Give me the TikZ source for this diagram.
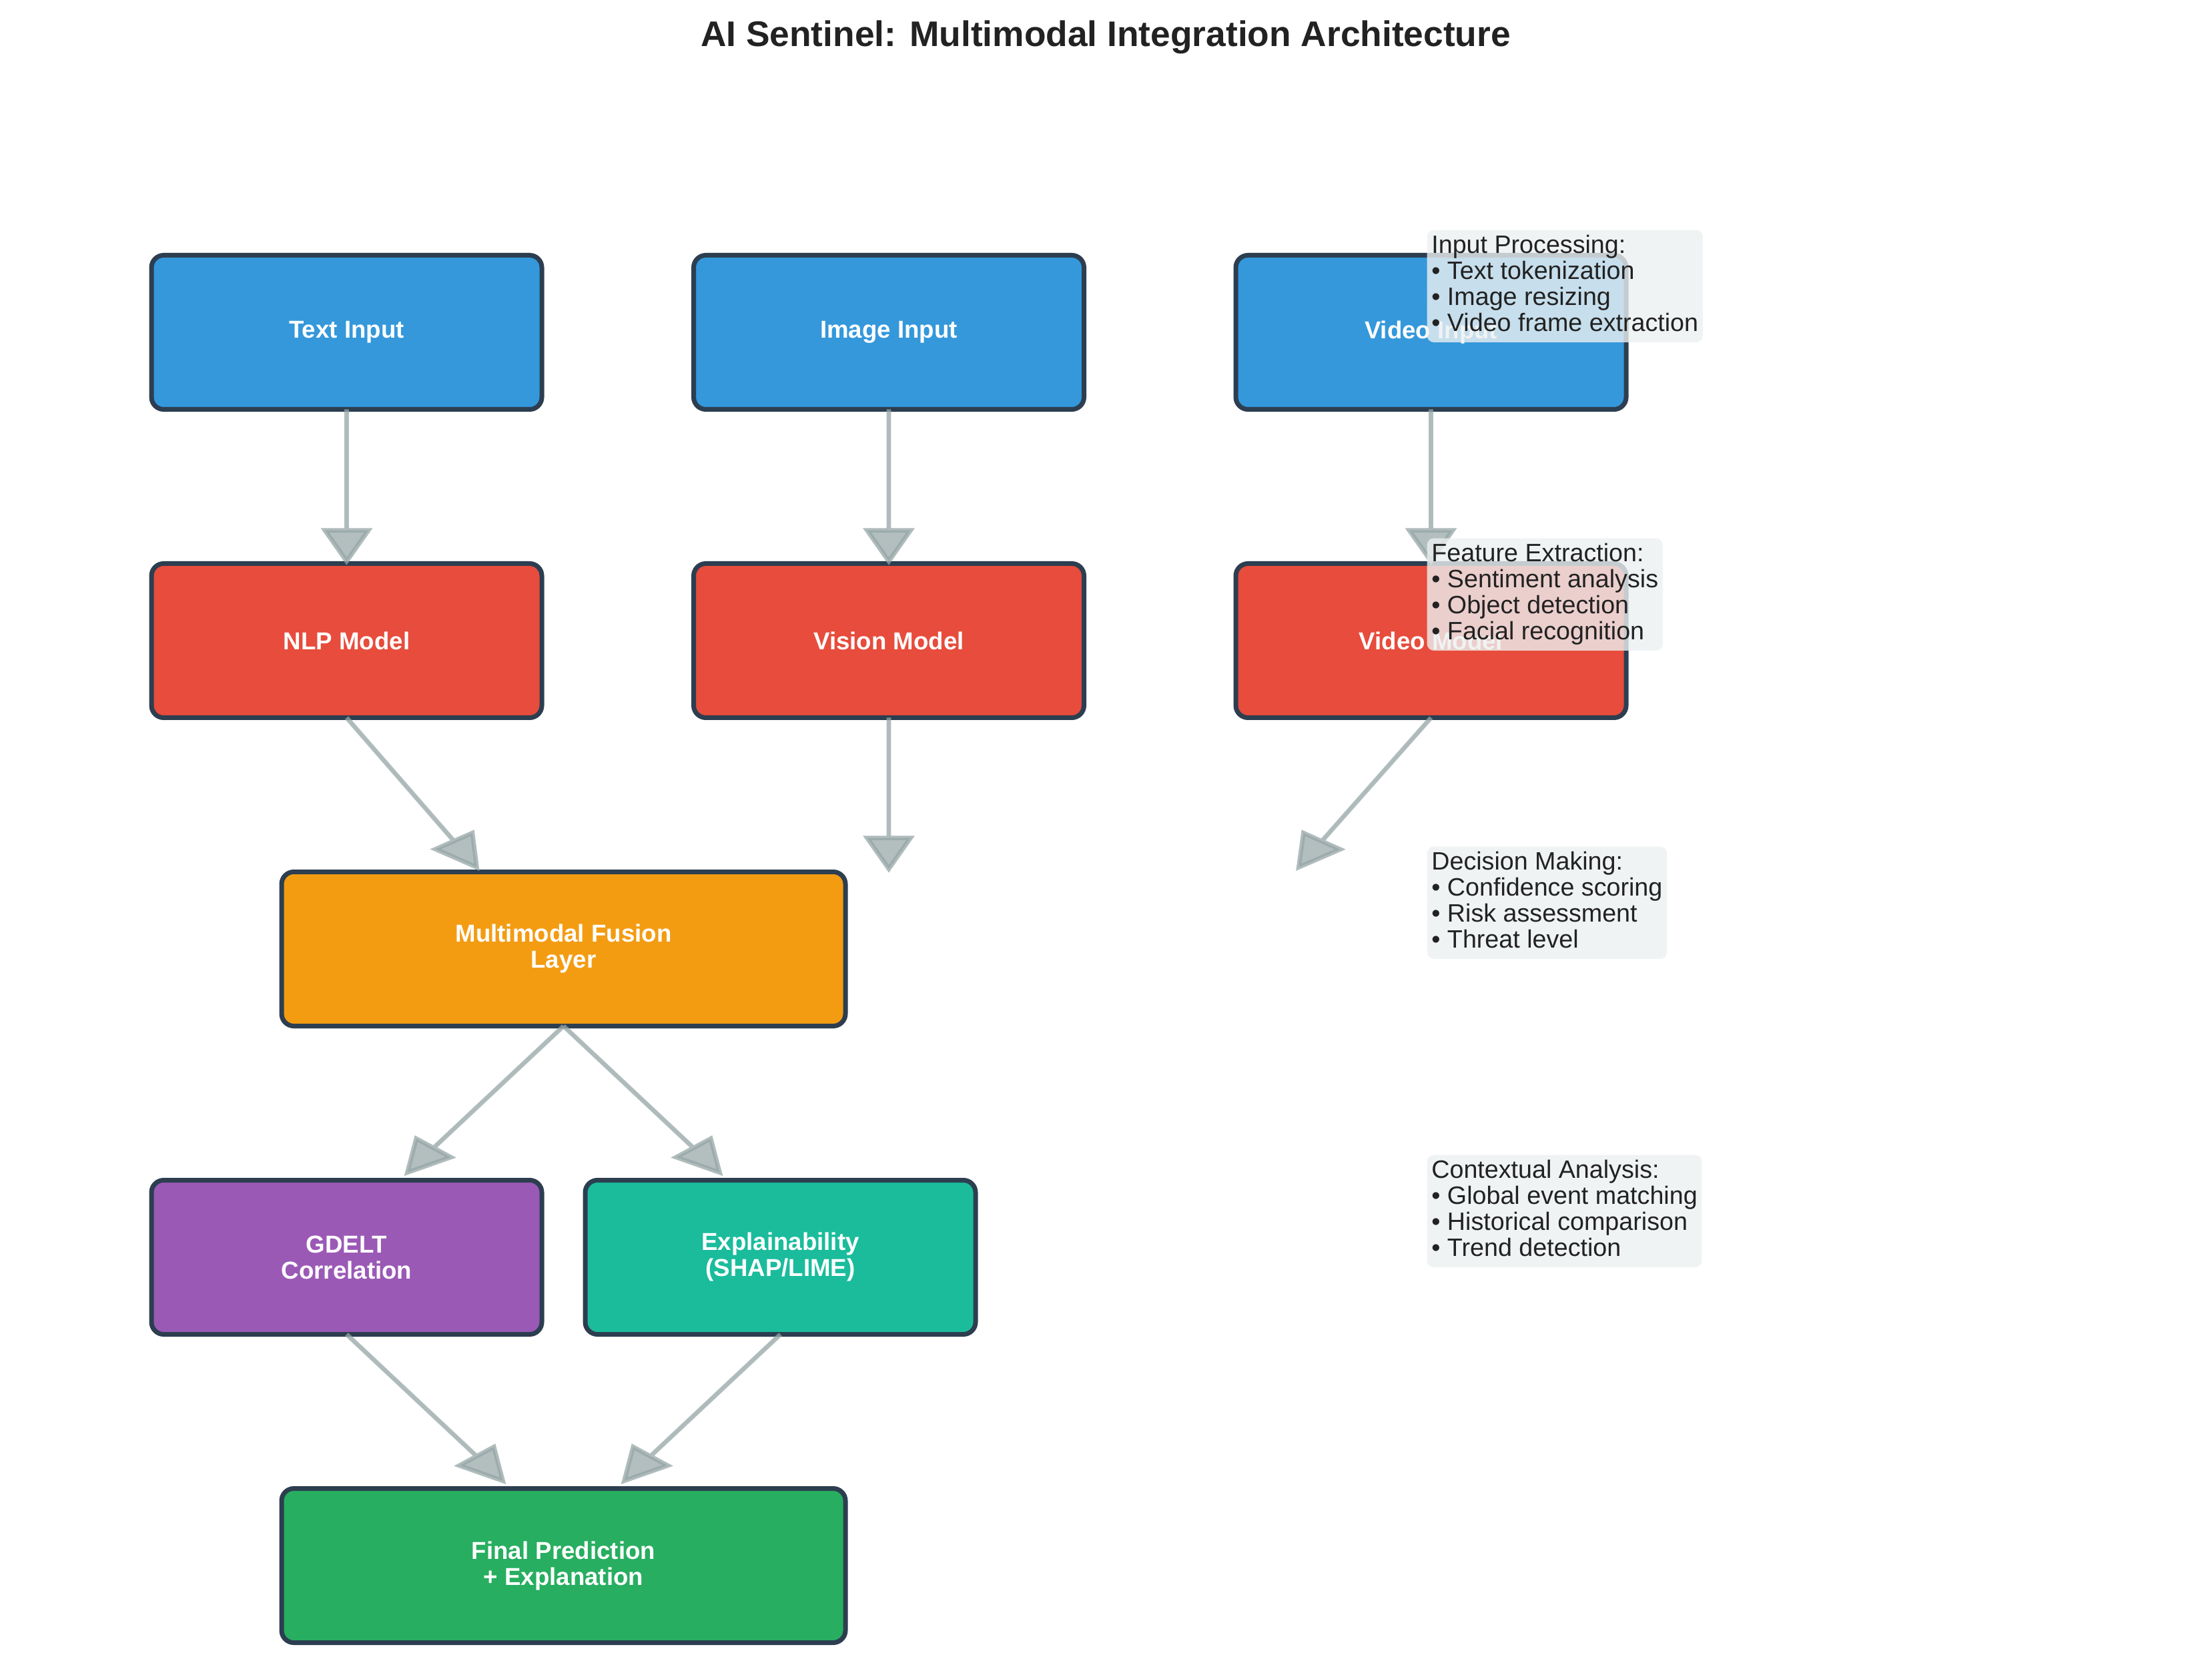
\documentclass[tikz,border=0pt]{standalone}
\usepackage{fontspec}
\setmainfont{Liberation Sans}
\usetikzlibrary{calc}
\definecolor{cdark}{HTML}{2C3E50}
\definecolor{cin}{HTML}{3498DB}
\definecolor{cmod}{HTML}{E74C3C}
\definecolor{cfus}{HTML}{F39C12}
\definecolor{cgd}{HTML}{9B59B6}
\definecolor{cex}{HTML}{1ABC9C}
\definecolor{cfin}{HTML}{27AE60}
\definecolor{carr}{HTML}{95A5A6}
\definecolor{cann}{HTML}{ECF0F1}
\definecolor{ctext}{HTML}{222222}
\newcommand\lst{\rule[-2.8pt]{0pt}{11.4pt}}
\newcommand\mplarrow[2]{%
 \filldraw[arr] let \p1=(#1), \p2=(#2),
   \n1={(\x2-\x1)/97.5}, \n2={(\y2-\y1)/69.3},
   \n3={sqrt((\n1)*(\n1)+(\n2)*(\n2))},
   \n4={\x2-0.2*(\n1)/(\n3)*97.5}, \n5={\y2-0.2*(\n2)/(\n3)*69.3},
   \n6={0.1*(\n2)/(\n3)*97.5}, \n7={0.1*(\n1)/(\n3)*69.3}
 in (\p1) -- (\n4,\n5) -- ({\n4-\n6},{\n5+\n7}) -- (\p2) -- ({\n4+\n6},{\n5-\n7}) -- (\n4,\n5) -- cycle;}
\tikzset{
 box/.style={draw=cdark, line width=2.1pt, rounded corners=5.5pt, minimum width=175.5pt,
   minimum height=69.3pt, inner sep=0pt, outer sep=0pt, text=white, align=center,
   font=\bfseries\fontsize{11}{11.7}\selectfont},
 wide/.style={minimum width=253.5pt},
 arr/.style={fill=carr, draw=carr, fill opacity=0.72, draw opacity=0.75, line width=2pt, line join=miter},
 annot/.style={anchor=north west, align=left, fill=cann, fill opacity=0.8, text opacity=1,
   text=ctext, inner sep=2pt, rounded corners=3pt, font=\fontsize{11.3}{11.7}\selectfont},
 titlestyle/.style={anchor=base, text=ctext, font=\bfseries\fontsize{16}{19}\selectfont, inner sep=0pt}
}
\begin{document}
\begin{tikzpicture}[x=97.5pt, y=69.3pt]
\useasboundingbox (-1.5985,-8.632) rectangle (8.6015,2.1558);
\node[titlestyle] (title) at (3.5,1.857) {AI Sentinel: Multimodal Integration Architecture};
% boxes
\node[box, fill=cin] (tin) at (0,0) {Text Input};
\node[box, fill=cin] (iin) at (2.5,0) {Image Input};
\node[box, fill=cin] (vin) at (5,0) {Video Input};
\node[box, fill=cmod] (nlp) at (0,-2) {NLP Model};
\node[box, fill=cmod] (vis) at (2.5,-2) {Vision Model};
\node[box, fill=cmod] (vmod) at (5,-2) {Video Model};
\node[box, wide, fill=cfus] (fus) at (1,-4) {Multimodal Fusion\\Layer};
\node[box, fill=cgd] (gd) at (0,-6) {GDELT\\Correlation};
\node[box, fill=cex] (ex) at (2,-6) {Explainability\\(SHAP/LIME)};
\node[box, wide, fill=cfin] (fin) at (1,-8) {Final Prediction\\+ Explanation};
% arrow tips
\coordinate (t1) at (0,-1.485);
\coordinate (t2) at (2.5,-1.485);
\coordinate (t3) at (5,-1.485);
\coordinate (t4) at (0.6,-3.47);
\coordinate (t5) at (2.5,-3.48);
\coordinate (t6) at (4.39,-3.47);
\coordinate (t7) at (0.28,-5.45);
\coordinate (t8) at (1.72,-5.45);
\coordinate (t9) at (0.72,-7.45);
\coordinate (t10) at (1.28,-7.45);
\mplarrow{tin.south}{t1}
\mplarrow{iin.south}{t2}
\mplarrow{vin.south}{t3}
\mplarrow{nlp.south}{t4}
\mplarrow{vis.south}{t5}
\mplarrow{vmod.south}{t6}
\mplarrow{fus.south}{t7}
\mplarrow{fus.south}{t8}
\mplarrow{gd.south}{t9}
\mplarrow{ex.south}{t10}
% annotations
\node[annot] (a1) at (4.98,0.667) {\lst Input Processing:\\\lst• Text tokenization\\\lst• Image resizing\\\lst• Video frame extraction};
\node[annot] (a2) at (4.98,-1.333) {\lst Feature Extraction:\\\lst• Sentiment analysis\\\lst• Object detection\\\lst• Facial recognition};
\node[annot] (a3) at (4.98,-3.333) {\lst Decision Making:\\\lst• Confidence scoring\\\lst• Risk assessment\\\lst• Threat level};
\node[annot] (a4) at (4.98,-5.333) {\lst Contextual Analysis:\\\lst• Global event matching\\\lst• Historical comparison\\\lst• Trend detection};
\end{tikzpicture}
\end{document}
